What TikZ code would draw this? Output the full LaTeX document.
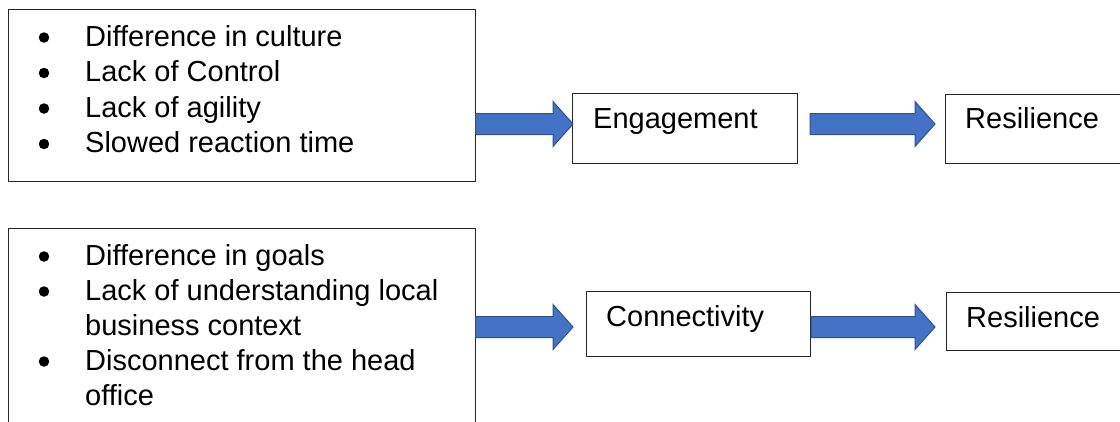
\documentclass[tikz,border=0pt]{standalone}
\usepackage{fontspec}
\setmainfont{Liberation Sans}
\usetikzlibrary{calc}
\definecolor{arrowfill}{HTML}{4472C4}
\definecolor{arrowline}{HTML}{2F528F}
\newcommand\blockarr[2]{%
  \draw[barrow] ($(#1)+(0,-10.5)$) -- ($(#2)+(-20,-10.5)$) -- ($(#2)+(-20,-22.5)$) -- (#2)
    -- ($(#2)+(-20,22.5)$) -- ($(#2)+(-20,10.5)$) -- ($(#1)+(0,10.5)$) -- cycle;}
\begin{document}
\begin{tikzpicture}[x=1pt,y=-1pt,
  box/.style={draw=black!85, line width=1.2pt, fill=white, anchor=north west, inner sep=0pt},
  txt/.style={anchor=base west, inner sep=0pt, font=\fontsize{29}{35}\selectfont},
  bul/.style={circle, fill=black, inner sep=0pt, minimum size=10.5pt},
  barrow/.style={fill=arrowfill, draw=arrowline, line width=1pt, line join=miter}]
\useasboundingbox (0,0) rectangle (1120,421);
\clip (0,0) rectangle (1120,421);
\fill[white] (0,0) rectangle (1120,421);

% boxes
\node[box, minimum width=466.5pt, minimum height=172pt] (box1) at (8,9) {};
\node[box, minimum width=466.5pt, minimum height=222pt] (box2) at (8,228) {};
\node[box, minimum width=225pt, minimum height=70pt] (eng) at (572,93) {};
\node[box, minimum width=195pt, minimum height=69pt] (res1) at (945,94) {};
\node[box, minimum width=224pt, minimum height=65pt] (con) at (586,291) {};
\node[box, minimum width=194pt, minimum height=58pt] (res2) at (946,292) {};

% top list
\node[bul] (b1) at (44,37.5) {};
\node[txt] (t1) at (85,46) {Difference in culture};
\node[bul] (b2) at (44,73) {};
\node[txt] (t2) at (85,81.5) {Lack of Control};
\node[bul] (b3) at (44,108.5) {};
\node[txt] (t3) at (85,117) {Lack of agility};
\node[bul] (b4) at (44,144) {};
\node[txt] (t4) at (85,152.5) {Slowed reaction time};

% bottom list
\node[bul] (c1) at (44,256.5) {};
\node[txt] (u1) at (85,265) {Difference in goals};
\node[bul] (c2) at (44,291.5) {};
\node[txt] (u2) at (85,300) {Lack of understanding local};
\node[txt] (u3) at (85,335) {business context};
\node[bul] (c3) at (44,361.5) {};
\node[txt] (u4) at (85,370) {Disconnect from the head};
\node[txt] (u5) at (85,405) {office};

% box labels
\node[txt] (engt) at (593,128) {Engagement};
\node[txt] (res1t) at (965,128) {Resilience};
\node[txt] (cont) at (606,326) {Connectivity};
\node[txt] (res2t) at (966,327) {Resilience};

% arrows
\coordinate (a1s) at (box1.east |- 0,124);
\coordinate (a1e) at (573,124);
\coordinate (a2s) at (810,124);
\coordinate (a2e) at (935,124);
\coordinate (a3s) at (box2.east |- 0,327);
\coordinate (a3e) at (573,327);
\coordinate (a4s) at (con.east |- 0,327);
\coordinate (a4e) at (935,327);
\blockarr{a1s}{a1e}
\blockarr{a2s}{a2e}
\blockarr{a3s}{a3e}
\blockarr{a4s}{a4e}
\end{tikzpicture}
\end{document}
